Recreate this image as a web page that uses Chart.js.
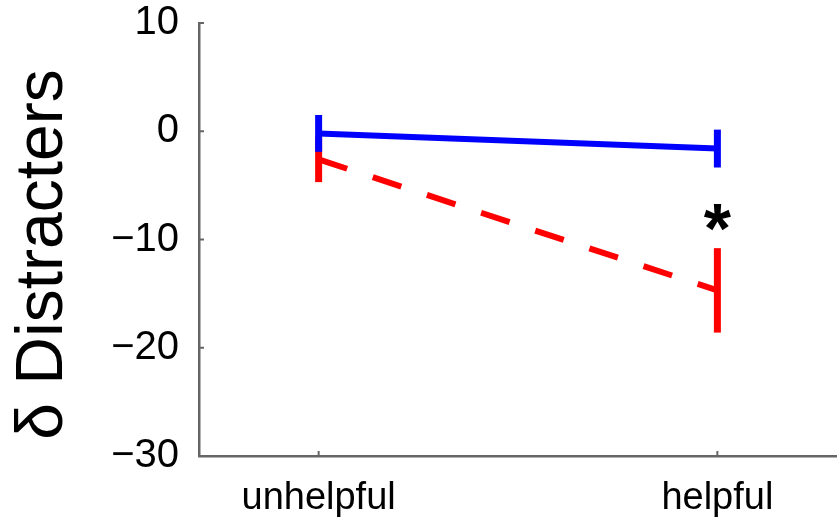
<!DOCTYPE html>
<html><head><meta charset="utf-8">
<script src="https://cdn.jsdelivr.net/npm/chart.js@4"></script>
<style>html,body{margin:0;padding:0;background:#fff}#wrap{width:837px;height:525px}</style>
</head><body><div id="wrap"><canvas id="c" width="837" height="525"></canvas></div>
<script>
const categories = ['unhelpful', 'helpful'];
const categoryX = [1, 2];
const blueMean = [-0.2, -1.6];
const blueErr = [1.7, 1.75];
const redMean = [-2.6, -14.7];
const redErr = [2.1, 3.9];
const yTicks = [-30, -20, -10, 0, 10];
const yTitle = 'δ Distracters';
const starX = [2];
const starY = [-8.0];
const starText = ['*'];

const FONT = '"Liberation Sans", Arial, Helvetica, sans-serif';

const errorBars = {
  id: 'errorBars',
  afterDatasetsDraw(chart) {
    const ctx = chart.ctx, xs = chart.scales.x, ys = chart.scales.y;
    const groups = [[redMean, redErr, '#ff0000'], [blueMean, blueErr, '#0000ff']];
    ctx.save();
    ctx.lineCap = 'butt';
    ctx.lineWidth = 7;
    groups.forEach(([m, e, col]) => {
      ctx.strokeStyle = col;
      m.forEach((v, i) => {
        const x = xs.getPixelForValue(categoryX[i]);
        ctx.beginPath();
        ctx.moveTo(x, ys.getPixelForValue(v + e[i]));
        ctx.lineTo(x, ys.getPixelForValue(v - e[i]));
        ctx.stroke();
      });
    });
    ctx.fillStyle = '#000';
    ctx.font = 'bold 70px ' + FONT;
    ctx.textAlign = 'center';
    ctx.textBaseline = 'alphabetic';
    starX.forEach((sx, i) => {
      const m = ctx.measureText(starText[i]);
      const px = xs.getPixelForValue(sx), py = ys.getPixelForValue(starY[i]);
      const base = py + (m.actualBoundingBoxAscent - m.actualBoundingBoxDescent) / 2;
      ctx.fillText(starText[i], px, base);
    });
    ctx.restore();
  }
};

const decorations = {
  id: 'decorations',
  afterDraw(chart) {
    const ctx = chart.ctx, xs = chart.scales.x, ys = chart.scales.y;
    const a = chart.chartArea;
    ctx.save();
    ctx.strokeStyle = '#666';
    ctx.lineWidth = 2;
    yTicks.forEach(v => {
      const y = ys.getPixelForValue(v);
      ctx.beginPath(); ctx.moveTo(a.left, y); ctx.lineTo(a.left + 5, y); ctx.stroke();
    });
    categoryX.forEach(v => {
      const x = xs.getPixelForValue(v);
      ctx.beginPath(); ctx.moveTo(x, a.bottom); ctx.lineTo(x, a.bottom - 5); ctx.stroke();
    });
    // y-axis title
    ctx.translate(44, (a.top + a.bottom) / 2 + 15);
    ctx.rotate(-Math.PI / 2);
    ctx.fillStyle = '#000';
    ctx.font = '66px ' + FONT;
    ctx.textAlign = 'center';
    ctx.textBaseline = 'middle';
    ctx.fillText(yTitle, 0, 0);
    ctx.restore();
  }
};

new Chart(document.getElementById('c'), {
  type: 'line',
  data: {
    datasets: [
      {
        label: 'blue',
        data: categoryX.map((x, i) => ({x, y: blueMean[i]})),
        borderColor: '#0000ff',
        borderWidth: 6,
        pointRadius: 0,
        fill: false,
        tension: 0
      },
      {
        label: 'red',
        data: categoryX.map((x, i) => ({x, y: redMean[i]})),
        borderColor: '#ff0000',
        borderWidth: 6,
        borderDash: [30, 27],
        pointRadius: 0,
        fill: false,
        tension: 0
      }
    ]
  },
  options: {
    responsive: false,
    animation: false,
    devicePixelRatio: 1,
    layout: {padding: {left: 0, right: 0, top: 0, bottom: 0}},
    plugins: {legend: {display: false}, tooltip: {enabled: false}},
    scales: {
      x: {
        type: 'linear',
        min: 0.7,
        max: 2.3,
        afterBuildTicks: s => { s.ticks = categoryX.map(v => ({value: v})); },
        afterFit: s => { s.height = 69; },
        grid: {display: false},
        border: {display: true, color: '#666', width: 2.5},
        ticks: {
          color: '#000',
          padding: 12,
          font: {family: FONT, size: 38},
          maxRotation: 0,
          autoSkip: false,
          callback: v => { const i = categoryX.indexOf(v); return i >= 0 ? categories[i] : ''; }
        }
      },
      y: {
        type: 'linear',
        min: -30,
        max: 10,
        afterBuildTicks: s => { s.ticks = yTicks.map(v => ({value: v})); },
        afterFit: s => { s.width = 199; s.paddingTop = 23; },
        grid: {display: false},
        border: {display: true, color: '#666', width: 2.5},
        ticks: {
          color: '#000',
          padding: 12,
          font: {family: FONT, size: 40},
          callback: v => v < 0 ? '\u2212' + Math.abs(v) : String(v)
        }
      }
    }
  },
  plugins: [errorBars, decorations]
});
</script>
</body></html>
